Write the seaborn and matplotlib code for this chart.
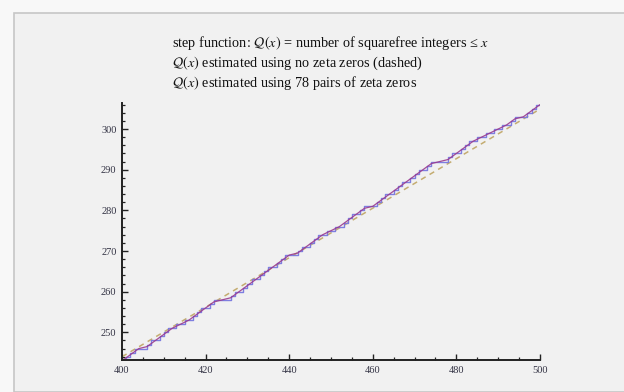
import numpy as np
import pandas as pd
import matplotlib
matplotlib.use("Agg")
import matplotlib.pyplot as plt
import seaborn as sns
from matplotlib.patches import Rectangle
from matplotlib.ticker import MultipleLocator

# ---- data ----
step_x = list(range(400, 501))
step_q = [243, 244, 245, 246, 246, 246, 247, 248, 248, 249,
          250, 251, 251, 252, 252, 253, 253, 254, 255, 256,
          256, 257, 258, 258, 258, 258, 259, 260, 260, 261,
          262, 263, 263, 264, 265, 266, 266, 267, 268, 269,
          269, 269, 270, 271, 271, 272, 273, 274, 274, 275,
          275, 276, 276, 277, 278, 279, 279, 280, 281, 281,
          281, 282, 283, 284, 284, 285, 286, 287, 287, 288,
          289, 290, 290, 291, 292, 292, 292, 292, 293, 294,
          294, 295, 296, 297, 297, 298, 298, 299, 299, 300,
          300, 301, 301, 302, 303, 303, 303, 304, 305, 306,
          306]

smooth_x = [400, 402, 404, 406, 408, 410, 412, 414, 416, 418,
            420, 422, 424, 426, 428, 430, 432, 434, 436, 438,
            440, 442, 444, 446, 448, 450, 452, 454, 456, 458,
            460, 462, 464, 466, 468, 470, 472, 474, 476, 478,
            480, 482, 484, 486, 488, 490, 492, 494, 496, 498, 500]
smooth_q = [243.0, 244.5, 246.0, 246.5, 248.0, 249.5, 251.0, 252.0, 253.0, 254.5,
            256.0, 257.5, 258.0, 258.5, 260.0, 261.5, 263.0, 264.5, 266.0, 267.5,
            269.0, 269.5, 271.0, 272.5, 274.0, 275.0, 276.0, 277.5, 279.0, 280.5,
            281.0, 282.5, 284.0, 285.5, 287.0, 288.5, 290.0, 291.5, 292.0, 292.5,
            294.0, 295.5, 297.0, 298.0, 299.0, 300.0, 301.0, 302.5, 303.0, 304.5, 306.0]

dashed_x = [400, 500]
dashed_q = [244.0, 304.9]

title_lines = [
    r"step function: $\mathcal{Q}(x)$ = number of squarefree integers ≤ $x$",
    r"$\mathcal{Q}(x)$ estimated using no zeta zeros (dashed)",
    r"$\mathcal{Q}(x)$ estimated using 78 pairs of zeta zeros",
]

# ---- style ----
sns.set_theme(style="white")
plt.rcParams["font.family"] = ["Liberation Serif", "DejaVu Serif"]
plt.rcParams["mathtext.fontset"] = "stix"

fig = plt.figure(figsize=(6.24, 3.92), dpi=100, facecolor="#f8f8f8")
W, H = 624, 392
fig.patches.append(Rectangle((14 / W, 0), 1 - 14 / W + 0.01, 1 - 13 / H,
                             transform=fig.transFigure, facecolor="#f1f1f1",
                             edgecolor="#c6c6c6", linewidth=1.2, zorder=-10))

ax = fig.add_axes([122 / W, 1 - 360 / H, (540 - 122) / W, (360 - 103) / H])
ax.patch.set_visible(False)

df_step = pd.DataFrame({"x": step_x, "q": step_q})
df_smooth = pd.DataFrame({"x": smooth_x, "q": smooth_q})
df_dash = pd.DataFrame({"x": dashed_x, "q": dashed_q})

sns.lineplot(data=df_dash, x="x", y="q", ax=ax, color="#c4ac70",
             linewidth=1.1, dashes=False, linestyle=(0, (3.5, 3)))
sns.lineplot(data=df_step, x="x", y="q", ax=ax, color="#7878e0",
             linewidth=1.0, drawstyle="steps-post", alpha=0.95)
sns.lineplot(data=df_smooth, x="x", y="q", ax=ax, color="#9a3a8e",
             linewidth=0.9, alpha=0.9)

ax.set_xlim(400, 500)
ax.set_ylim(243.2, 306.4)
ax.set_xlabel("")
ax.set_ylabel("")

for s in ["top", "right"]:
    ax.spines[s].set_visible(False)
for s in ["left", "bottom"]:
    ax.spines[s].set_color("#222222")
    ax.spines[s].set_linewidth(1.4)

ax.xaxis.set_major_locator(MultipleLocator(20))
ax.xaxis.set_minor_locator(MultipleLocator(5))
ax.yaxis.set_major_locator(MultipleLocator(10))
ax.yaxis.set_minor_locator(MultipleLocator(2))
ax.tick_params(axis="both", which="major", direction="in", length=4.5,
               width=1.0, color="#222222", labelsize=7.5, labelcolor="#333344")
ax.tick_params(axis="both", which="minor", direction="in", length=2.5,
               width=0.9, color="#222222")
ax.tick_params(axis="y", which="both", left=True, pad=4)
ax.tick_params(axis="x", which="both", bottom=True, pad=4)

ys = [43, 63, 83]
for t, y in zip(title_lines, ys):
    fig.text(172 / W, 1 - y / H, t, ha="left", va="center", fontsize=10.3,
             color="#111111")

fig.savefig("out.png", dpi=100, facecolor=fig.get_facecolor())
